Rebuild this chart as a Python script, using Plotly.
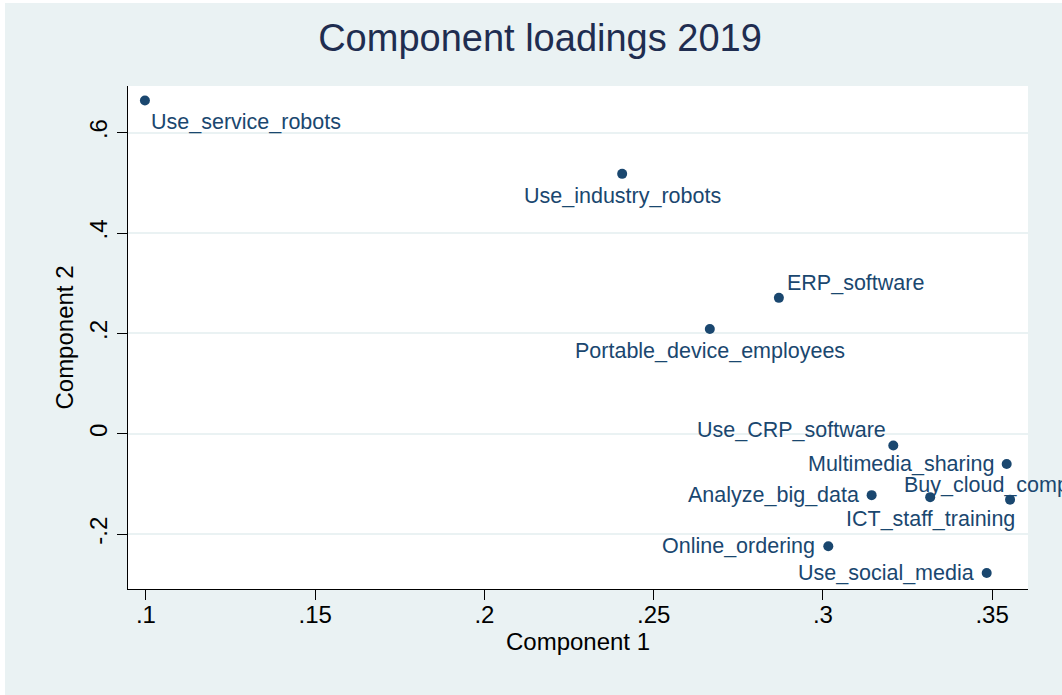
import plotly.graph_objects as go

# Loadings of each indicator on the first two principal components (2019)
variables = [
    "Use_service_robots",
    "Use_industry_robots",
    "ERP_software",
    "Portable_device_employees",
    "Use_CRP_software",
    "Multimedia_sharing",
    "Analyze_big_data",
    "ICT_staff_training",
    "Buy_cloud_computing",
    "Online_ordering",
    "Use_social_media",
]
component1 = [0.0997, 0.2407, 0.2870, 0.2666, 0.3208, 0.3543, 0.3144, 0.3317, 0.3553, 0.3016, 0.3484]
component2 = [0.664, 0.518, 0.271, 0.209, -0.023, -0.060, -0.122, -0.126, -0.131, -0.224, -0.277]

# Marker-label clock positions (Stata style mlabvposition)
label_clock = [4, 6, 1, 6, 11, 9, 9, 6, 12, 9, 9]

x_ticks = [0.1, 0.15, 0.2, 0.25, 0.3, 0.35]
x_tick_text = [".1", ".15", ".2", ".25", ".3", ".35"]
y_ticks = [-0.2, 0.0, 0.2, 0.4, 0.6]
y_tick_text = ["-.2", "0", ".2", ".4", ".6"]

NAVY = "#1a476f"
BG = "#eaf2f3"
FONT = "Liberation Sans, Arial, sans-serif"

# clock position -> (xanchor, yanchor, xshift, yshift)
clock_style = {
    1: ("left", "middle", 6, 15),
    4: ("left", "middle", 4, -21),
    6: ("center", "middle", 0, -22),
    9: ("right", "middle", -11, 0),
    11: ("right", "middle", -5, 15),
    12: ("center", "middle", 0, 15),
}

fig = go.Figure()
fig.add_trace(go.Scatter(
    x=component1, y=component2, mode="markers",
    marker=dict(color=NAVY, size=10, symbol="circle"),
    hoverinfo="text", text=variables, showlegend=False,
))

annotations = []
for name, cx, cy, pos in zip(variables, component1, component2, label_clock):
    xa, ya, dx, dy = clock_style[pos]
    annotations.append(dict(
        x=cx, y=cy, xref="x", yref="y", text=name, showarrow=False,
        xanchor=xa, yanchor=ya, xshift=dx, yshift=dy,
        font=dict(family=FONT, size=21.5, color=NAVY),
    ))

# plot area spans pixels x 128..1028, y 86..589
PW, PH = 900.0, 503.0
shapes = [
    dict(type="rect", xref="paper", yref="paper", layer="below",
         x0=-128 / PW, x1=-123 / PW, y0=-106 / PH, y1=589 / PH,
         fillcolor="white", line=dict(width=0)),
    dict(type="rect", xref="paper", yref="paper", layer="below",
         x0=-128 / PW, x1=1.2, y0=586 / PH, y1=589 / PH,
         fillcolor="white", line=dict(width=0)),
]

fig.update_layout(
    width=1062, height=695,
    margin=dict(l=128, r=34, t=86, b=106),
    paper_bgcolor=BG, plot_bgcolor="white",
    title=dict(text="Component loadings 2019", x=540 / 1062, xanchor="center",
               y=1 - 38 / 695, yanchor="middle",
               font=dict(family=FONT, size=38, color="#1f2d50")),
    annotations=annotations,
    shapes=shapes,
    xaxis=dict(
        range=[0.0947, 0.3606], tickvals=x_ticks, ticktext=x_tick_text,
        showgrid=False, zeroline=False, showline=True, linecolor="black", linewidth=1,
        ticks="outside", ticklen=10, tickcolor="black", tickwidth=1,
        ticklabelstandoff=-6,
        tickfont=dict(family=FONT, size=24, color="black"),
        title=dict(text="Component 1", standoff=2,
                   font=dict(family=FONT, size=24, color="black")),
    ),
    yaxis=dict(
        range=[-0.309, 0.693], tickvals=y_ticks, ticktext=y_tick_text,
        showgrid=True, gridcolor=BG, gridwidth=2,
        zeroline=False, showline=True, linecolor="black", linewidth=1,
        ticks="outside", ticklen=10, tickcolor="black", tickwidth=1, tickangle=-90,
        tickfont=dict(family=FONT, size=24, color="black"),
        title=dict(text="Component 2", standoff=5,
                   font=dict(family=FONT, size=24, color="black")),
    ),
)

fig.write_html("out.html")
